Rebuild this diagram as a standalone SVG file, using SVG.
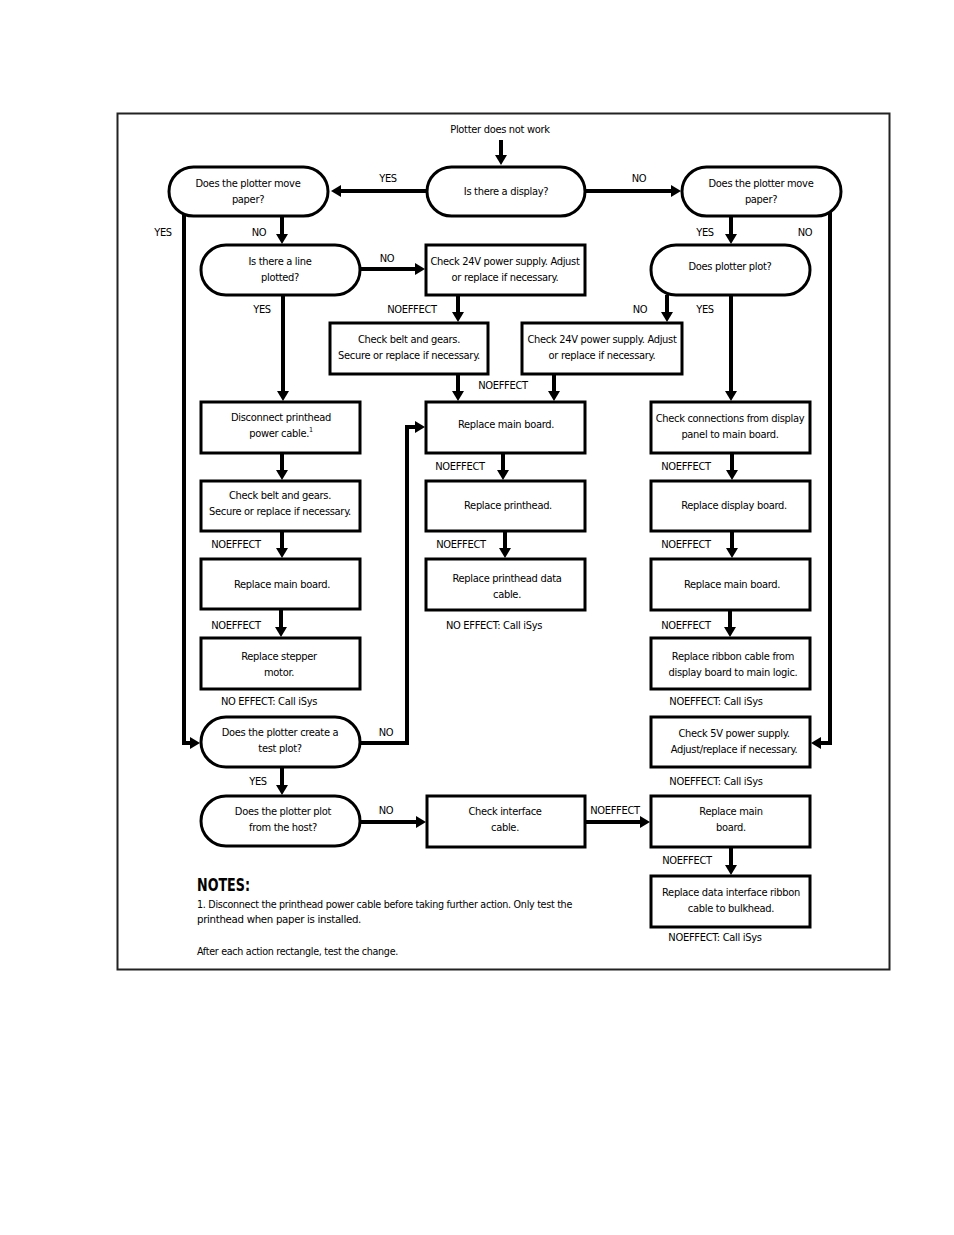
<svg xmlns="http://www.w3.org/2000/svg" width="954" height="1235" viewBox="0 0 954 1235">
<defs>
<marker id="ah" markerUnits="userSpaceOnUse" markerWidth="12" markerHeight="14" refX="2" refY="6" orient="auto">
<path d="M0,0 L10,6 L0,12 z" fill="#000"/>
</marker>
<style>
text{font-family:"Liberation Sans Narrow","DejaVu Sans Condensed",sans-serif;font-size:11px;fill:#000;letter-spacing:-0.3px}
.c{text-anchor:middle}
.box{fill:#fff;stroke:#000;stroke-width:3}
.term{fill:#fff;stroke:#000;stroke-width:3}
.ln{fill:none;stroke:#000;stroke-width:4}
.ar{fill:none;stroke:#000;stroke-width:4;marker-end:url(#ah)}
.notes{font-weight:bold;font-size:17px;letter-spacing:0}
</style>
</defs>
<rect width="954" height="1235" fill="#fff"/>
<rect x="117.5" y="113.5" width="772" height="856" fill="none" stroke="#222" stroke-width="2"/>

<g id="connectors">
<path class="ar" d="M501,140 V157"/>
<path class="ar" d="M427,191 H339"/>
<path class="ar" d="M585,191 H673"/>
<path class="ar" d="M282,216 V236"/>
<path class="ar" d="M184,212 V743 H192"/>
<path class="ar" d="M360,269 H417"/>
<path class="ar" d="M458,295 V314"/>
<path class="ar" d="M283,295 V393"/>
<path class="ar" d="M731,216 V236"/>
<path class="ar" d="M830,210 V743 H819"/>
<path class="ar" d="M667,295 V314"/>
<path class="ar" d="M731,295 V393"/>
<path class="ar" d="M458,374 V393"/>
<path class="ar" d="M554,374 V393"/>
<path class="ar" d="M360,743 H407 V427 H417"/>
<path class="ar" d="M282,453 V472"/>
<path class="ar" d="M282,531 V550"/>
<path class="ar" d="M281,609 V629"/>
<path class="ar" d="M282,767 V787"/>
<path class="ar" d="M360,822 H418"/>
<path class="ar" d="M585,822 H642"/>
<path class="ar" d="M731,847 V867"/>
<path class="ar" d="M503,453 V472"/>
<path class="ar" d="M505,531 V550"/>
<path class="ar" d="M732,453 V472"/>
<path class="ar" d="M732,531 V550"/>
<path class="ar" d="M730,610 V629"/>
</g>

<g id="labels">
<text class="c" x="500" y="133">Plotter does not work</text>
<text class="c" x="388" y="182">YES</text>
<text class="c" x="639" y="182">NO</text>
<text class="c" x="163" y="236">YES</text>
<text class="c" x="259" y="236">NO</text>
<text class="c" x="705" y="236">YES</text>
<text class="c" x="805" y="236">NO</text>
<text class="c" x="387" y="262">NO</text>
<text class="c" x="262" y="313">YES</text>
<text class="c" x="412" y="313">NOEFFECT</text>
<text class="c" x="640" y="313">NO</text>
<text class="c" x="705" y="313">YES</text>
<text class="c" x="503" y="389">NOEFFECT</text>
<text class="c" x="460" y="470">NOEFFECT</text>
<text class="c" x="686" y="470">NOEFFECT</text>
<text class="c" x="236" y="548">NOEFFECT</text>
<text class="c" x="461" y="548">NOEFFECT</text>
<text class="c" x="686" y="548">NOEFFECT</text>
<text class="c" x="236" y="629">NOEFFECT</text>
<text class="c" x="494" y="629">NO EFFECT: Call iSys</text>
<text class="c" x="686" y="629">NOEFFECT</text>
<text class="c" x="269" y="705">NO EFFECT: Call iSys</text>
<text class="c" x="716" y="705">NOEFFECT: Call iSys</text>
<text class="c" x="386" y="736">NO</text>
<text class="c" x="258" y="785">YES</text>
<text class="c" x="716" y="785">NOEFFECT: Call iSys</text>
<text class="c" x="386" y="814">NO</text>
<text class="c" x="615" y="814">NOEFFECT</text>
<text class="c" x="687" y="864">NOEFFECT</text>
<text class="c" x="715" y="941">NOEFFECT: Call iSys</text>
</g>

<g id="n-display"><rect class="term" x="427" y="167" width="158" height="49" rx="24.5"/><text class="c" x="506" y="195">Is there a display?</text></g>
<g id="n-move-left"><rect class="term" x="169" y="167" width="159" height="49" rx="24.5"/><text class="c" x="248" y="187">Does the plotter move</text><text class="c" x="248" y="203">paper?</text></g>
<g id="n-move-right"><rect class="term" x="682" y="167" width="159" height="49" rx="24.5"/><text class="c" x="761" y="187">Does the plotter move</text><text class="c" x="761" y="203">paper?</text></g>
<g id="n-line"><rect class="term" x="201" y="245" width="159" height="50" rx="25"/><text class="c" x="280" y="265">Is there a line</text><text class="c" x="280" y="281">plotted?</text></g>
<g id="n-24v-a"><rect class="box" x="426" y="245" width="159" height="50"/><text class="c" x="505" y="265">Check 24V power supply. Adjust</text><text class="c" x="505" y="281">or replace if necessary.</text></g>
<g id="n-plot"><rect class="term" x="651" y="245" width="159" height="50" rx="25"/><text class="c" x="730" y="270">Does plotter plot?</text></g>
<g id="n-belt-a"><rect class="box" x="330" y="323" width="158" height="51"/><text class="c" x="409" y="343">Check belt and gears.</text><text class="c" x="409" y="359">Secure or replace if necessary.</text></g>
<g id="n-24v-b"><rect class="box" x="522" y="323" width="160" height="51"/><text class="c" x="602" y="343">Check 24V power supply. Adjust</text><text class="c" x="602" y="359">or replace if necessary.</text></g>
<g id="n-disconnect"><rect class="box" x="201" y="402" width="159" height="51"/><text class="c" x="281" y="421">Disconnect printhead</text><text class="c" x="281" y="437">power cable.<tspan font-size="7" dy="-5">1</tspan></text></g>
<g id="n-main-mid"><rect class="box" x="426" y="402" width="159" height="51"/><text class="c" x="506" y="428">Replace main board.</text></g>
<g id="n-conn"><rect class="box" x="651" y="402" width="159" height="51"/><text class="c" x="730" y="422">Check connections from display</text><text class="c" x="730" y="438">panel to main board.</text></g>
<g id="n-belt-b"><rect class="box" x="201" y="481" width="159" height="50"/><text class="c" x="280" y="499">Check belt and gears.</text><text class="c" x="280" y="515">Secure or replace if necessary.</text></g>
<g id="n-printhead"><rect class="box" x="426" y="481" width="159" height="50"/><text class="c" x="508" y="509">Replace printhead.</text></g>
<g id="n-display-board"><rect class="box" x="651" y="481" width="159" height="50"/><text class="c" x="734" y="509">Replace display board.</text></g>
<g id="n-main-left"><rect class="box" x="201" y="559" width="159" height="50"/><text class="c" x="282" y="588">Replace main board.</text></g>
<g id="n-ph-cable"><rect class="box" x="426" y="559" width="159" height="51"/><text class="c" x="507" y="582">Replace printhead data</text><text class="c" x="507" y="598">cable.</text></g>
<g id="n-main-right"><rect class="box" x="651" y="559" width="159" height="51"/><text class="c" x="732" y="588">Replace main board.</text></g>
<g id="n-stepper"><rect class="box" x="201" y="638" width="159" height="51"/><text class="c" x="279" y="660">Replace stepper</text><text class="c" x="279" y="676">motor.</text></g>
<g id="n-ribbon"><rect class="box" x="651" y="638" width="159" height="51"/><text class="c" x="733" y="660">Replace ribbon cable from</text><text class="c" x="733" y="676">display board to main logic.</text></g>
<g id="n-testplot"><rect class="term" x="201" y="717" width="159" height="50" rx="25"/><text class="c" x="280" y="736">Does the plotter create a</text><text class="c" x="280" y="752">test plot?</text></g>
<g id="n-5v"><rect class="box" x="651" y="717" width="159" height="50"/><text class="c" x="734" y="737">Check 5V power supply.</text><text class="c" x="734" y="753">Adjust/replace if necessary.</text></g>
<g id="n-host"><rect class="term" x="201" y="796" width="159" height="50" rx="25"/><text class="c" x="283" y="815">Does the plotter plot</text><text class="c" x="283" y="831">from the host?</text></g>
<g id="n-interface"><rect class="box" x="427" y="796" width="158" height="51"/><text class="c" x="505" y="815">Check interface</text><text class="c" x="505" y="831">cable.</text></g>
<g id="n-main-host"><rect class="box" x="651" y="796" width="159" height="51"/><text class="c" x="731" y="815">Replace main</text><text class="c" x="731" y="831">board.</text></g>
<g id="n-data-ribbon"><rect class="box" x="651" y="876" width="159" height="51"/><text class="c" x="731" y="896">Replace data interface ribbon</text><text class="c" x="731" y="912">cable to bulkhead.</text></g>

<g id="notes">
<text class="notes" x="197" y="891" textLength="53" lengthAdjust="spacingAndGlyphs">NOTES:</text>
<text x="197" y="908" textLength="375" lengthAdjust="spacingAndGlyphs">1. Disconnect the printhead power cable before taking further action. Only test the</text>
<text x="197" y="923" textLength="164" lengthAdjust="spacingAndGlyphs">printhead when paper is installed.</text>
<text x="197" y="955" textLength="201" lengthAdjust="spacingAndGlyphs">After each action rectangle, test the change.</text>
</g>
</svg>
